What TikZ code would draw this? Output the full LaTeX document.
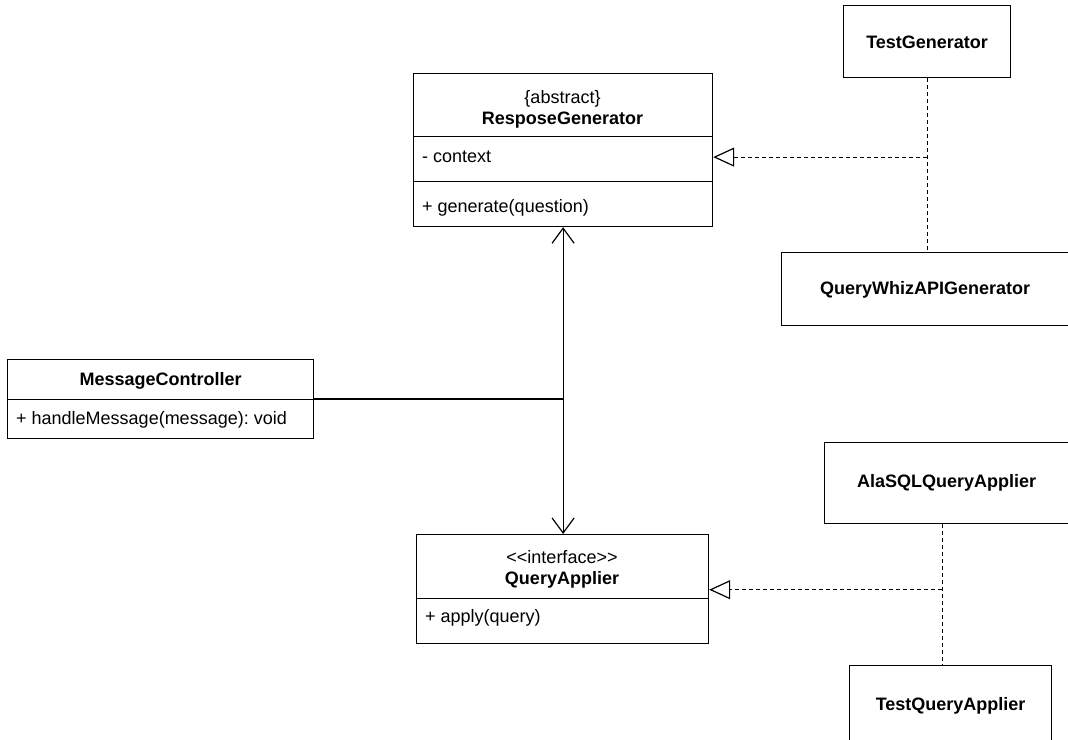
\documentclass[tikz,border=0pt]{standalone}
\usepackage{fontspec}
\setmainfont{Liberation Sans}
\usetikzlibrary{arrows.meta}

\newcommand{\umlfont}{\fontsize{18}{21}\selectfont}

\tikzset{
  compartment/.style={draw, line width=1.2pt, inner sep=0pt, anchor=north west},
  header/.style={font=\umlfont, align=center, inner sep=0pt},
  member/.style={font=\umlfont, anchor=west, inner sep=0pt},
  realize/.style={line width=1.1pt, dash pattern=on 4pt off 3pt},
  realizehead/.style={realize, -{Triangle[open, length=21pt, width=19pt, line width=1.2pt]}},
  assoc/.style={line width=1.2pt, {Straight Barb[length=15pt, width=22pt, line width=1.2pt]}-{Straight Barb[length=15pt, width=22pt, line width=1.2pt]}},
  link/.style={line width=1.6pt}
}

\begin{document}
\frenchspacing
\begin{tikzpicture}[x=1pt, y=-1pt]
\useasboundingbox (0,0) rectangle (1068,739);

% ResposeGenerator (abstract class)
\node[compartment, minimum width=299pt, minimum height=63pt] (rgHead) at (413,73) {};
\node[compartment, minimum width=299pt, minimum height=45pt] (rgAttr) at (413,136) {};
\node[compartment, minimum width=299pt, minimum height=45pt] (rgOps) at (413,181) {};
\node[header] (rgTitle) at (562.5,109) {\{abstract\}\\\textbf{ResposeGenerator}};
\node[member] (rgContext) at (422,157) {- context};
\node[member] (rgGenerate) at (422,208) {+ generate(question)};

% MessageController
\node[compartment, minimum width=306pt, minimum height=40pt] (mcHead) at (7,359) {};
\node[compartment, minimum width=306pt, minimum height=39pt] (mcOps) at (7,399) {};
\node[header] (mcTitle) at ([yshift=-1pt]mcHead.center) {\textbf{MessageController}};
\node[member] (mcHandle) at (16,420) {+ handleMessage(message): void};

% QueryApplier (interface)
\node[compartment, minimum width=292pt, minimum height=64pt] (qaHead) at (416,534) {};
\node[compartment, minimum width=292pt, minimum height=45pt] (qaOps) at (416,598) {};
\node[header] (qaTitle) at (562,569) {<{}<interface>{}>\\\textbf{QueryApplier}};
\node[member] (qaApply) at (425,618) {+ apply(query)};

% ResposeGenerator implementations
\node[compartment, minimum width=167pt, minimum height=72pt] (tg) at (843,5) {};
\node[header] at ([yshift=-1pt]tg.center) {\textbf{TestGenerator}};
\node[compartment, minimum width=287pt, minimum height=73pt] (qw) at (781,252) {};
\node[header] at ([yshift=-1pt]qw.center) {\textbf{QueryWhizAPIGenerator}};

% QueryApplier implementations
\node[compartment, minimum width=244pt, minimum height=81pt] (al) at (824,442) {};
\node[header] at (al.center) {\textbf{AlaSQLQueryApplier}};
\node[compartment, minimum width=202pt, minimum height=90pt] (tq) at (849,665) {};
\node[header] at ([yshift=5pt]tq.center) {\textbf{TestQueryApplier}};

% Realization of ResposeGenerator
\draw[realize] (tg.south) -- (qw.north -| tg.south);
\coordinate (rgJoin) at ([yshift=2pt]tg.south |- rgAttr.east);
\draw[realizehead] (rgJoin) -- (rgJoin -| rgAttr.east);

% Realization of QueryApplier
\coordinate (alDrop) at ([xshift=-4.5pt]al.south);
\draw[realize] (alDrop) -- (tq.north -| alDrop);
\coordinate (qaIn) at ([yshift=9.5pt]qaHead.south east);
\coordinate (qaJoin) at (alDrop |- qaIn);
\draw[realizehead] (qaJoin) -- (qaIn);

% Associations through the controller
\draw[assoc] (rgOps.south) -- (qaHead.north -| rgOps.south);
\coordinate (mcJoin) at (rgOps.south |- mcOps.north east);
\draw[link] (mcOps.north east) -- (mcJoin);
\end{tikzpicture}
\end{document}
